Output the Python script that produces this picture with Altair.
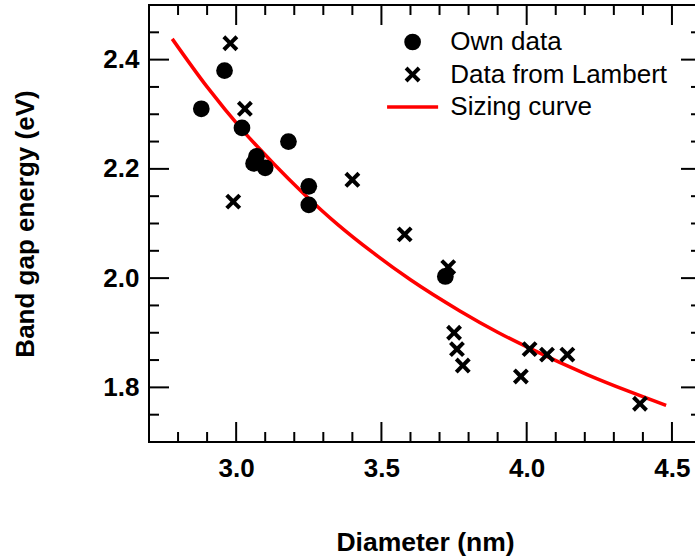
import altair as alt
import pandas as pd

# ---------------- data ----------------
series_names = ["Own data", "Data from Lambert", "Sizing curve"]

own_diameter = [2.88, 2.96, 3.02, 3.18, 3.07, 3.06, 3.10, 3.25, 3.25, 3.72]
own_energy = [2.31, 2.38, 2.275, 2.25, 2.223, 2.21, 2.202, 2.168, 2.134, 2.003]

lambert_diameter = [2.98, 3.03, 2.99, 3.40, 3.58, 3.73, 3.75, 3.76, 3.78, 3.98, 4.01, 4.07, 4.14, 4.39]
lambert_energy = [2.43, 2.31, 2.14, 2.18, 2.08, 2.02, 1.90, 1.87, 1.84, 1.82, 1.87, 1.86, 1.86, 1.77]

curve_diameter = [2.78, 2.90, 3.02, 3.13, 3.23, 3.35, 3.47, 3.60, 3.77, 3.90, 4.02, 4.21, 4.35, 4.48]
curve_energy = [2.438, 2.350, 2.272, 2.209, 2.156, 2.098, 2.047, 1.997, 1.940, 1.901, 1.869, 1.823, 1.793, 1.767]

x_major = [3.0, 3.5, 4.0, 4.5]
x_minor = [2.8, 2.9, 3.1, 3.2, 3.3, 3.4, 3.6, 3.7, 3.8, 3.9, 4.1, 4.2, 4.3, 4.4]
y_major = [1.8, 2.0, 2.2, 2.4]
y_minor = [1.75, 1.85, 1.9, 1.95, 2.05, 2.1, 2.15, 2.25, 2.3, 2.35, 2.45]

# ---------------- styling ----------------
W, H = 552, 437
FONT = "Liberation Sans"
MAJOR, MINOR = 20, 10
SYM = 280

points = pd.DataFrame({
    "diameter": own_diameter + lambert_diameter,
    "energy": own_energy + lambert_energy,
    "series": [series_names[0]] * len(own_diameter) + [series_names[1]] * len(lambert_diameter),
})
curve = pd.DataFrame({"diameter": curve_diameter, "energy": curve_energy})

xs = alt.Scale(domain=[2.7, 4.6], nice=False, zero=False)
ys = alt.Scale(domain=[1.7, 2.5], nice=False, zero=False)


def xpath(s=0.95, a=0.34):
    pts = [(-s, -s + a), (-s + a, -s), (0, -a), (s - a, -s), (s, -s + a), (a, 0),
           (s, s - a), (s - a, s), (0, a), (-s + a, s), (-s, s - a), (-a, 0)]
    return "M" + "L".join(f"{x:.3f},{y:.3f}" for x, y in pts) + "Z"


line_path = "M-3.05,-0.2L3.05,-0.2L3.05,0.2L-3.05,0.2Z"

x_axis = alt.Axis(values=x_major, format=".1f", title="Diameter (nm)", ticks=False, tickSize=0,
                  domain=False, grid=False, labelFont=FONT, labelFontSize=26, labelFontWeight="bold",
                  labelColor="black", labelPadding=13, labelFlush=False, titleFont=FONT,
                  titleFontSize=26.5, titleFontWeight="bold", titleColor="black", titleY=87,
                  titleX=W / 2)
y_axis = alt.Axis(values=y_major, format=".1f", title="Band gap energy (eV)", ticks=False, tickSize=0,
                  domain=False, grid=False, labelFont=FONT, labelFontSize=26, labelFontWeight="bold",
                  labelColor="black", labelPadding=10, titleFont=FONT, titleFontSize=26,
                  titleFontWeight="bold", titleColor="black", titleAngle=270, titleX=-110.5,
                  titleY=H / 2, titleAlign="center", titleBaseline="bottom")

X = alt.X("diameter:Q", scale=xs, axis=x_axis)
Y = alt.Y("energy:Q", scale=ys, axis=y_axis)

line = alt.Chart(curve).mark_line(color="#ff0000", strokeWidth=3.5, interpolate="monotone").encode(
    x=X, y=Y,
)

legend = alt.Legend(title=None, orient="none", legendX=250.6, legendY=24, direction="vertical",
                    padding=0, labelFont=FONT, labelFontSize=26, labelColor="black",
                    labelLimit=400, labelOffset=24.7, symbolSize=SYM, symbolStrokeWidth=0,
                    rowPadding=6.5, symbolOpacity=1)

pts = alt.Chart(points).mark_point(filled=True, size=SYM, opacity=1, strokeWidth=0).encode(
    x=X, y=Y,
    color=alt.Color("series:N", scale=alt.Scale(domain=series_names, range=["black", "black", "#ff0000"]),
                    legend=legend),
    shape=alt.Shape("series:N", scale=alt.Scale(domain=series_names, range=["circle", xpath(), line_path]),
                    legend=legend),
)

tick_layers = []
for vals, ln in [(x_major, MAJOR), (x_minor, MINOR)]:
    df = pd.DataFrame({"diameter": vals})
    base = alt.Chart(df).mark_rule(color="black", strokeWidth=2)
    tick_layers.append(base.encode(x=X, y=alt.value(H), y2=alt.value(H - ln)))
    tick_layers.append(base.encode(x=X, y=alt.value(0), y2=alt.value(ln)))
for vals, ln in [(y_major, MAJOR), (y_minor, MINOR)]:
    df = pd.DataFrame({"energy": vals})
    base = alt.Chart(df).mark_rule(color="black", strokeWidth=2)
    tick_layers.append(base.encode(y=Y, x=alt.value(0), x2=alt.value(ln)))
    tick_layers.append(base.encode(y=Y, x=alt.value(W), x2=alt.value(W - ln)))

chart = alt.layer(line, *tick_layers, pts).properties(
    width=W, height=H,
    autosize=alt.AutoSizeParams(type="none"),
    padding={"left": 149, "top": 5, "right": -6, "bottom": 116},
    background="white",
).configure_view(stroke="black", strokeWidth=2)

chart.save("out.html", embed_options={"renderer": "svg", "actions": False})
